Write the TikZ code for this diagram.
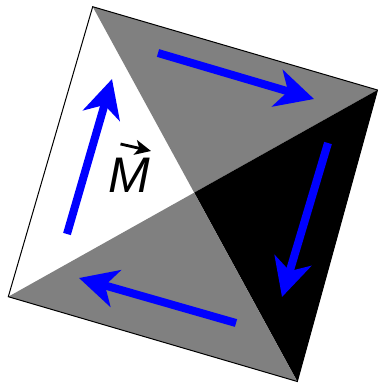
\documentclass[tikz,border=0pt]{standalone}
\usepackage{fontspec}
\setmainfont{Liberation Sans}
\usetikzlibrary{arrows.meta}

\tikzset{
  flow/.style={draw=blue, line width=8pt, -{Stealth[length=38pt,width=38pt,inset=11pt]}},
  face/.style={draw=none},
}

\begin{document}
\begin{tikzpicture}[x=1pt,y=-1pt]
  \useasboundingbox (0,0) rectangle (378,384);

  % Corners of the square
  \coordinate (top) at (92.7,6.7);
  \coordinate (right) at (377.5,90);
  \coordinate (bottom) at (297.3,381.5);
  \coordinate (left) at (8.3,296.7);
  \coordinate (mid) at (intersection of top--bottom and left--right);

  % Faces
  \fill[white] (top) -- (left) -- (mid) -- cycle;
  \fill[gray] (top) -- (right) -- (mid) -- cycle;
  \fill[black] (right) -- (bottom) -- (mid) -- cycle;
  \fill[gray] (bottom) -- (left) -- (mid) -- cycle;
  \draw[line width=1pt] (top) -- (right) -- (bottom) -- (left) -- cycle;

  % Circulation arrows
  \coordinate (s1) at (67,234);   \coordinate (e1) at (112,79);
  \coordinate (s2) at (158,53);   \coordinate (e2) at (314,99);
  \coordinate (s3) at (328,143);  \coordinate (e3) at (282,297);
  \coordinate (s4) at (236,323);  \coordinate (e4) at (79,278);
  \foreach \i in {1,...,4}
    \draw[flow] (s\i) -- (e\i);

  % Label
  \node[anchor=base, inner sep=0pt, font=\fontsize{50}{52}\selectfont\itshape] (m) at (129,192.5) {M};
  \coordinate (v1) at ([shift={(-8.5,-48.5)}]m.base);
  \coordinate (v2) at ([shift={(22,-41.5)}]m.base);
  \draw[line width=2.8pt, -{Stealth[length=16pt,width=15pt,inset=4pt]}] (v1) -- (v2);
\end{tikzpicture}
\end{document}
